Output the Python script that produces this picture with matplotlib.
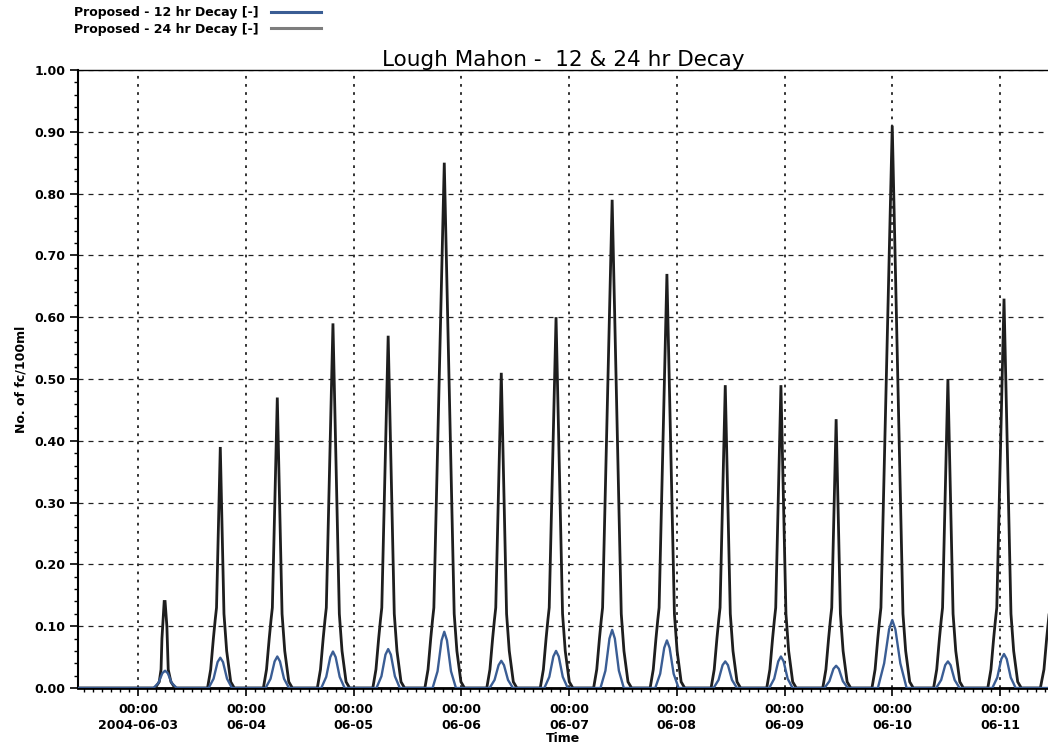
import matplotlib
matplotlib.use("Agg")
import matplotlib.pyplot as plt
import matplotlib.dates as mdates
from matplotlib.ticker import MultipleLocator, FixedLocator
from matplotlib.lines import Line2D
import pandas as pd

# ---------------- data (hours after 2004-06-03 00:00) ----------------
start = pd.Timestamp("2004-06-03 00:00")

# Proposed - 24 hr Decay
hours_24 = [
    -14.0, 3.8, 4.7, 5.1, 5.3, 5.8, 6.0, 6.4, 6.7, 7.3, 8.2,
    15.46, 16.16, 16.76, 17.16, 17.46, 18.3, 19.12, 19.72, 20.62, 21.42,
    27.90, 28.60, 29.20, 29.60, 29.90, 31.0, 32.06, 32.66, 33.56, 34.36,
    39.92, 40.62, 41.22, 41.62, 41.92, 43.4, 44.82, 45.42, 46.32, 47.12,
    52.28, 52.98, 53.58, 53.98, 54.28, 55.7, 57.06, 57.66, 58.56, 59.36,
    63.88, 64.58, 65.18, 65.58, 65.88, 68.2, 70.41, 71.01, 71.91, 72.71,
    77.67, 78.37, 78.97, 79.37, 79.67, 80.9, 82.08, 82.68, 83.58, 84.38,
    89.58, 90.28, 90.88, 91.28, 91.58, 93.1, 94.55, 95.15, 96.05, 96.85,
    101.47, 102.17, 102.77, 103.17, 103.47, 105.6, 107.63, 108.23, 109.13, 109.93,
    114.06, 114.76, 115.36, 115.76, 116.06, 117.8, 119.47, 120.07, 120.97, 121.77,
    127.64, 128.34, 128.94, 129.34, 129.64, 130.8, 131.92, 132.52, 133.42, 134.22,
    140.04, 140.74, 141.34, 141.74, 142.04, 143.2, 144.32, 144.92, 145.82, 146.62,
    152.52, 153.22, 153.82, 154.22, 154.52, 155.5, 156.45, 157.05, 157.95, 158.75,
    163.48, 164.18, 164.78, 165.18, 165.48, 168.0, 170.39, 170.99, 171.89, 172.69,
    177.21, 177.91, 178.51, 178.91, 179.21, 180.4, 181.55, 182.15, 183.05, 183.85,
    189.29, 189.99, 190.59, 190.99, 191.29, 192.9, 194.45, 195.05, 195.95, 196.75,
    201.0, 201.8, 202.4, 202.8, 203.1,
]
values_24 = [
    0.0, 0.0, 0.01, 0.03, 0.08, 0.14, 0.14, 0.10, 0.03, 0.01, 0.0,
    0.0, 0.03, 0.08, 0.11, 0.13, 0.39, 0.12, 0.06, 0.01, 0.0,
    0.0, 0.03, 0.08, 0.11, 0.13, 0.47, 0.12, 0.06, 0.01, 0.0,
    0.0, 0.03, 0.08, 0.11, 0.13, 0.59, 0.12, 0.06, 0.01, 0.0,
    0.0, 0.03, 0.08, 0.11, 0.13, 0.57, 0.12, 0.06, 0.01, 0.0,
    0.0, 0.03, 0.08, 0.11, 0.13, 0.85, 0.12, 0.06, 0.01, 0.0,
    0.0, 0.03, 0.08, 0.11, 0.13, 0.51, 0.12, 0.06, 0.01, 0.0,
    0.0, 0.03, 0.08, 0.11, 0.13, 0.60, 0.12, 0.06, 0.01, 0.0,
    0.0, 0.03, 0.08, 0.11, 0.13, 0.79, 0.12, 0.06, 0.01, 0.0,
    0.0, 0.03, 0.08, 0.11, 0.13, 0.67, 0.12, 0.06, 0.01, 0.0,
    0.0, 0.03, 0.08, 0.11, 0.13, 0.49, 0.12, 0.06, 0.01, 0.0,
    0.0, 0.03, 0.08, 0.11, 0.13, 0.49, 0.12, 0.06, 0.01, 0.0,
    0.0, 0.03, 0.08, 0.11, 0.13, 0.435, 0.12, 0.06, 0.01, 0.0,
    0.0, 0.03, 0.08, 0.11, 0.13, 0.91, 0.12, 0.06, 0.01, 0.0,
    0.0, 0.03, 0.08, 0.11, 0.13, 0.50, 0.12, 0.06, 0.01, 0.0,
    0.0, 0.03, 0.08, 0.11, 0.13, 0.63, 0.12, 0.06, 0.01, 0.0,
    0.0, 0.03, 0.08, 0.11, 0.13,
]

# Proposed - 12 hr Decay
hours_12 = [
    -14.0, 3.4, 4.5, 5.4, 6.0, 6.6, 7.5, 8.6,
    15.7, 16.8, 17.7, 18.3, 18.9, 19.8, 20.9,
    28.4, 29.5, 30.4, 31.0, 31.6, 32.5, 33.6,
    40.8, 41.9, 42.8, 43.4, 44.0, 44.9, 46.0,
    53.1, 54.2, 55.1, 55.7, 56.3, 57.2, 58.3,
    65.6, 66.7, 67.6, 68.2, 68.8, 69.7, 70.8,
    78.3, 79.4, 80.3, 80.9, 81.5, 82.4, 83.5,
    90.5, 91.6, 92.5, 93.1, 93.7, 94.6, 95.7,
    103.0, 104.1, 105.0, 105.6, 106.2, 107.1, 108.2,
    115.2, 116.3, 117.2, 117.8, 118.4, 119.3, 120.4,
    128.2, 129.3, 130.2, 130.8, 131.4, 132.3, 133.4,
    140.6, 141.7, 142.6, 143.2, 143.8, 144.7, 145.8,
    152.9, 154.0, 154.9, 155.5, 156.1, 157.0, 158.1,
    164.8, 166.2, 167.3, 168.0, 168.7, 169.8, 171.2,
    177.8, 178.9, 179.8, 180.4, 181.0, 181.9, 183.0,
    190.3, 191.4, 192.3, 192.9, 193.5, 194.4, 195.5,
    203.0,
]
values_12 = [
    0.0, 0.0, 0.008, 0.024, 0.028, 0.024, 0.008, 0.0,
    0.0, 0.015, 0.042, 0.049, 0.042, 0.015, 0.0,
    0.0, 0.015, 0.043, 0.051, 0.043, 0.015, 0.0,
    0.0, 0.018, 0.050, 0.059, 0.050, 0.018, 0.0,
    0.0, 0.019, 0.054, 0.063, 0.054, 0.019, 0.0,
    0.0, 0.027, 0.077, 0.091, 0.077, 0.027, 0.0,
    0.0, 0.013, 0.037, 0.044, 0.037, 0.013, 0.0,
    0.0, 0.018, 0.051, 0.060, 0.051, 0.018, 0.0,
    0.0, 0.028, 0.080, 0.094, 0.080, 0.028, 0.0,
    0.0, 0.023, 0.065, 0.077, 0.065, 0.023, 0.0,
    0.0, 0.013, 0.037, 0.043, 0.037, 0.013, 0.0,
    0.0, 0.015, 0.043, 0.051, 0.043, 0.015, 0.0,
    0.0, 0.011, 0.031, 0.036, 0.031, 0.011, 0.0,
    0.0, 0.040, 0.095, 0.110, 0.095, 0.040, 0.0,
    0.0, 0.013, 0.037, 0.043, 0.037, 0.013, 0.0,
    0.0, 0.017, 0.047, 0.055, 0.047, 0.017, 0.0,
    0.0,
]

tick_days = ["2004-06-03", "2004-06-04", "2004-06-05", "2004-06-06", "2004-06-07",
             "2004-06-08", "2004-06-09", "2004-06-10", "2004-06-11"]
tick_labels = ["00:00\n2004-06-03", "00:00\n06-04", "00:00\n06-05", "00:00\n06-06",
               "00:00\n06-07", "00:00\n06-08", "00:00\n06-09", "00:00\n06-10",
               "00:00\n06-11"]
series_names = ["Proposed - 12 hr Decay [-]", "Proposed - 24 hr Decay [-]"]
x_range_hours = [-13.4, 202.7]

# ---------------- figure ----------------
W, H = 1048, 752
fig = plt.figure(figsize=(W / 100, H / 100), dpi=100)
ax = fig.add_axes([78 / W, 1 - 688 / H, 1 - 78 / W, (688 - 70) / H])

t24 = start + pd.to_timedelta(hours_24, unit="h")
t12 = start + pd.to_timedelta(hours_12, unit="h")

c12 = "#3a5d94"
c24_line = "#1e1e1e"
c24_leg = "#7d7d7d"

ax.plot(t24, values_24, color=c24_line, lw=2.0, solid_joinstyle="miter", zorder=3)
ax.plot(t12, values_12, color=c12, lw=1.7, zorder=4)

xmin = start + pd.Timedelta(hours=x_range_hours[0])
xmax = start + pd.Timedelta(hours=x_range_hours[1])
ax.set_xlim(xmin, xmax)
ax.set_ylim(0, 1.0)

tick_pos = [mdates.date2num(pd.Timestamp(d)) for d in tick_days]
ax.xaxis.set_major_locator(FixedLocator(tick_pos))
ax.set_xticklabels(tick_labels)
ax.xaxis.set_minor_locator(mdates.HourLocator(byhour=range(0, 24, 2)))

ax.yaxis.set_major_locator(MultipleLocator(0.1))
ax.yaxis.set_minor_locator(MultipleLocator(0.02))
ax.set_yticklabels([f"{v:.2f}" for v in ax.get_yticks()])

for lab in ax.get_xticklabels() + ax.get_yticklabels():
    lab.set_fontfamily("DejaVu Sans")
    lab.set_fontweight("bold")
    lab.set_fontsize(9)

ax.tick_params(axis="both", which="major", direction="out", length=6, width=1.2,
               colors="black", pad=3)
ax.tick_params(axis="both", which="minor", direction="out", length=3, width=1.0,
               colors="black")
ax.tick_params(axis="x", which="major", pad=5)
for lab in ax.get_xticklabels():
    lab.set_linespacing(1.25)

ax.grid(axis="y", which="major", linestyle=(0, (4, 4)), color="#222222", lw=0.9)
ax.grid(axis="x", which="major", linestyle=(0, (1.5, 3)), color="#222222", lw=1.3)

ax.spines["right"].set_visible(False)
ax.spines["left"].set_linewidth(1.5)
ax.spines["bottom"].set_linewidth(2.0)
ax.spines["top"].set_linewidth(1.0)

ax.set_title("Lough Mahon -  12 & 24 hr Decay", fontsize=15.5,
             family="DejaVu Sans", pad=3)
ax.set_xlabel("Time", fontsize=9, family="DejaVu Sans", weight="bold", labelpad=0)
ax.set_ylabel("No. of fc/100ml", fontsize=9, family="DejaVu Sans", weight="bold",
              labelpad=5)

handles = [Line2D([], [], color=c12, lw=2.2), Line2D([], [], color=c24_leg, lw=2.2)]
fig.legend(handles, series_names, loc="upper left", bbox_to_anchor=(74 / W, 1 - 6 / H),
           frameon=False, markerfirst=False, handlelength=4.0, handletextpad=1.0,
           labelspacing=0.3, borderaxespad=0.0, borderpad=0.0,
           prop=dict(family="DejaVu Sans", weight="bold", size=9))

fig.savefig("out.png", dpi=100)
